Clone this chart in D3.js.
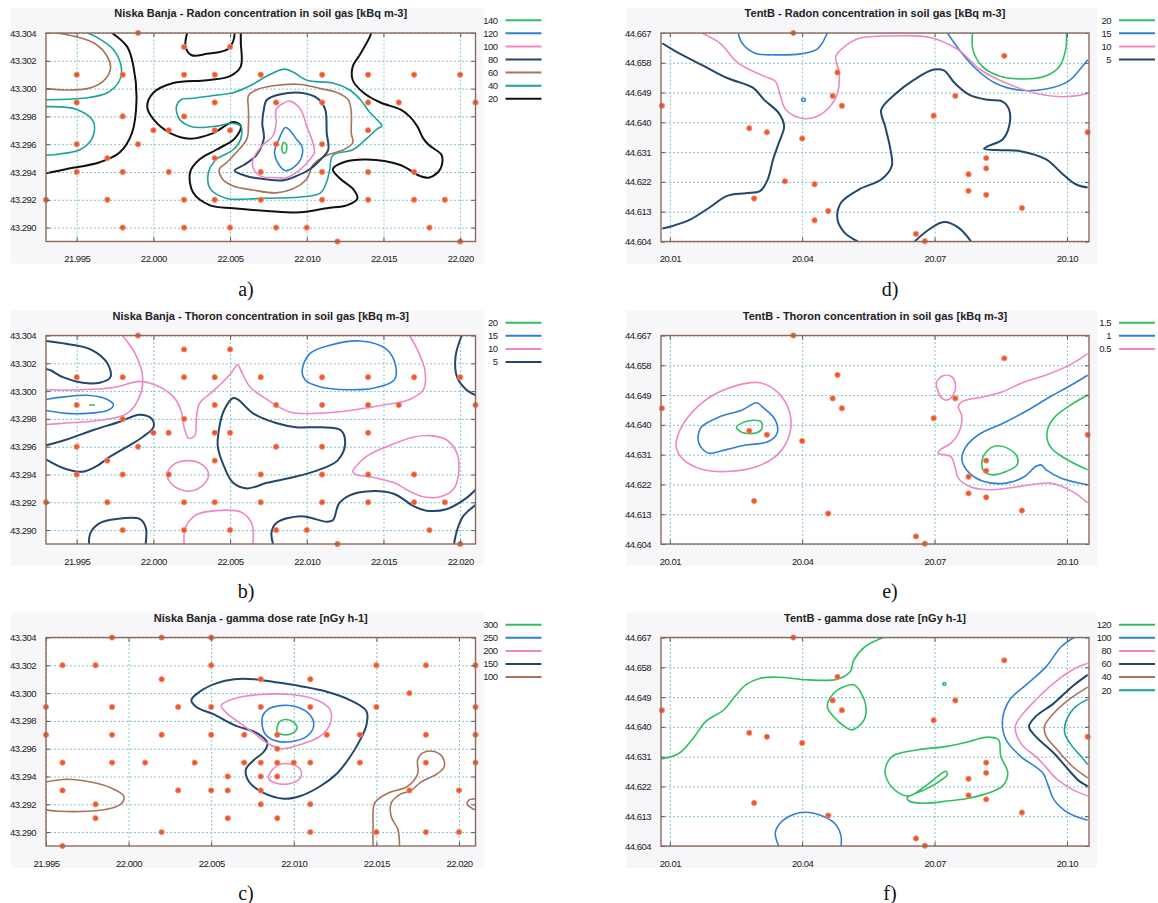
<!DOCTYPE html>
<html>
<head>
<meta charset="utf-8">
<script src="https://cdn.jsdelivr.net/npm/d3@7"></script>
<style>
  body { margin: 0; background: #fff; }
  svg { display: block; font-family: "Liberation Sans", Arial, sans-serif; }
  .lbl text, .legend text { font-size: 9.5px; fill: #222; letter-spacing: -0.5px; }
  .title { font-size: 11px; font-weight: bold; fill: #222; letter-spacing: 0px; }
  .letter { font-family: "Liberation Serif", "Times New Roman", serif; font-size: 20px; fill: #111; }
</style>
</head>
<body>
<svg id="chart" width="1158" height="903"></svg>
<script>
// ---- tick labels ----
const niskaXTicks = [21.995, 22.000, 22.005, 22.010, 22.015, 22.020];
const niskaYTicks = [43.290, 43.292, 43.294, 43.296, 43.298, 43.300, 43.302, 43.304];
const tentXTicks = [20.01, 20.04, 20.07, 20.10];
const tentYTicks = [44.604, 44.613, 44.622, 44.631, 44.640, 44.649, 44.658, 44.667];

// ---- sampling sites [lon, lat] ----
const niskaSites = [
  [21.999,43.304],
  [22.002,43.303],[22.005,43.303],
  [21.995,43.301],[21.998,43.301],[22.002,43.301],[22.004,43.301],[22.007,43.301],[22.011,43.301],[22.014,43.301],[22.017,43.301],[22.020,43.301],
  [21.995,43.299],[22.004,43.299],[22.008,43.299],[22.011,43.299],[22.014,43.299],[22.016,43.299],[22.021,43.299],
  [21.998,43.298],[22.002,43.298],
  [22.000,43.297],[22.001,43.297],[22.004,43.297],[22.005,43.297],[22.014,43.297],
  [21.995,43.296],[21.999,43.296],[22.008,43.296],[22.011,43.296],
  [21.997,43.295],[22.004,43.295],
  [21.995,43.294],[21.998,43.294],[22.001,43.294],[22.007,43.294],[22.011,43.294],[22.014,43.294],[22.017,43.294],
  [21.993,43.292],[21.997,43.292],[22.002,43.292],[22.004,43.292],[22.007,43.292],[22.011,43.292],[22.014,43.292],[22.017,43.292],[22.019,43.292],
  [21.998,43.290],[22.002,43.290],[22.005,43.290],[22.008,43.290],[22.010,43.290],[22.018,43.290],
  [22.012,43.289],[22.020,43.289]
];
const gammaSites = [
  [21.999,43.304],[22.002,43.304],[22.005,43.304],
  [21.996,43.302],[21.998,43.302],[22.005,43.302],[22.015,43.302],[22.018,43.302],[22.021,43.302],
  [22.002,43.301],[22.008,43.301],[22.011,43.301],
  [22.017,43.300],
  [21.995,43.299],[21.999,43.299],[22.003,43.299],[22.005,43.299],[22.008,43.299],[22.011,43.299],[22.015,43.299],[22.021,43.299],
  [21.995,43.297],[21.999,43.297],[22.002,43.297],[22.005,43.297],[22.007,43.297],[22.009,43.297],[22.012,43.297],[22.014,43.297],[22.018,43.297],[22.021,43.297],
  [22.009,43.296],
  [21.996,43.295],[21.999,43.295],[22.001,43.295],[22.004,43.295],[22.007,43.295],[22.008,43.295],[22.009,43.295],[22.010,43.295],[22.011,43.295],[22.014,43.295],[22.018,43.295],[22.021,43.295],
  [22.006,43.294],[22.008,43.294],[22.009,43.294],
  [21.996,43.293],[22.003,43.293],[22.005,43.293],[22.006,43.293],[22.008,43.293],[22.017,43.293],[22.020,43.293],
  [21.998,43.292],[22.008,43.292],[22.011,43.292],
  [21.998,43.291],[22.006,43.291],[22.009,43.291],
  [22.002,43.290],[22.011,43.290],[22.015,43.290],[22.018,43.290],[22.020,43.290],
  [21.996,43.289]
];
const tentSites = [
  [20.0380,44.6670],[20.0082,44.6450],[20.0480,44.6551],[20.0469,44.6480],[20.0490,44.6450],
  [20.0858,44.6601],[20.0747,44.6480],[20.0698,44.6420],[20.0280,44.6382],[20.0320,44.6370],
  [20.0400,44.6351],[20.1047,44.6370],[20.0817,44.6292],[20.0817,44.6261],[20.0777,44.6243],
  [20.0777,44.6193],[20.0817,44.6181],[20.0291,44.6170],[20.0459,44.6132],[20.0898,44.6141],
  [20.0658,44.6063],[20.0678,44.6041]
];
const tentRadonExtraSites = [[20.0361,44.6222],[20.0428,44.6213],[20.0428,44.6104]];

// ---- contour levels (legend order) ----
const radonNiskaLevels = [140, 120, 100, 80, 60, 40, 20];
const thoronNiskaLevels = [20, 15, 10, 5];
const gammaNiskaLevels = [300, 250, 200, 150, 100];
const radonTentLevels = [20, 15, 10, 5];
const thoronTentLevels = [1.5, 1, 0.5];
const gammaTentLevels = [120, 100, 80, 60, 40, 20];

// ---- contour lines [lon, lat] ----
const radonNiskaLines = [
  {level: 20, closed: false, pts: [[21.9973,43.3040],[21.9983,43.3030],[21.9987,43.3016],[21.9989,43.2992],[21.9986,43.2968],[21.9978,43.2954],[21.9965,43.2947],[21.9943,43.2942],[21.9930,43.2939]]},
  {level: 20, closed: false, pts: [[22.0022,43.3040],[22.0021,43.3030],[22.0025,43.3024],[22.0035,43.3025],[22.0048,43.3028],[22.0052,43.3034],[22.0053,43.3040]]},
  {level: 20, closed: false, pts: [[22.0057,43.3040],[22.0057,43.3033],[22.0057,43.3016],[22.0050,43.3009],[22.0035,43.3006],[22.0013,43.3004],[22.0000,43.2997],[21.9996,43.2987],[22.0000,43.2978],[22.0011,43.2968],[22.0024,43.2964],[22.0039,43.2968],[22.0052,43.2976],[22.0057,43.2973],[22.0053,43.2964],[22.0041,43.2956],[22.0030,43.2949],[22.0024,43.2940],[22.0026,43.2925],[22.0037,43.2916],[22.0052,43.2914],[22.0074,43.2912],[22.0096,43.2911],[22.0113,43.2914],[22.0126,43.2916],[22.0133,43.2921],[22.0130,43.2928],[22.0122,43.2935],[22.0117,43.2942],[22.0124,43.2947],[22.0139,43.2949],[22.0161,43.2945],[22.0174,43.2937],[22.0180,43.2936],[22.0187,43.2942],[22.0188,43.2952],[22.0180,43.2959],[22.0176,43.2964],[22.0172,43.2973],[22.0167,43.2980],[22.0161,43.2985],[22.0148,43.2990],[22.0137,43.2997],[22.0130,43.3006],[22.0130,43.3016],[22.0135,43.3025],[22.0141,43.3037],[22.0142,43.3040]]},
  {level: 40, closed: false, pts: [[21.9930,43.2992],[21.9954,43.2993],[21.9970,43.2997],[21.9978,43.3006],[21.9979,43.3016],[21.9974,43.3028],[21.9963,43.3037],[21.9957,43.3040]]},
  {level: 40, closed: false, pts: [[21.9930,43.2987],[21.9950,43.2985],[21.9961,43.2976],[21.9960,43.2964],[21.9952,43.2956],[21.9939,43.2953],[21.9930,43.2952]]},
  {level: 40, closed: true, pts: [[22.0015,43.2987],[22.0018,43.2992],[22.0026,43.2993],[22.0039,43.2995],[22.0052,43.2997],[22.0063,43.3002],[22.0074,43.3009],[22.0085,43.3014],[22.0091,43.3012],[22.0100,43.3006],[22.0117,43.3004],[22.0128,43.2999],[22.0135,43.2992],[22.0141,43.2983],[22.0148,43.2975],[22.0149,43.2973],[22.0146,43.2971],[22.0139,43.2964],[22.0130,43.2956],[22.0117,43.2952],[22.0115,43.2942],[22.0113,43.2933],[22.0109,43.2925],[22.0096,43.2922],[22.0070,43.2921],[22.0048,43.2921],[22.0037,43.2928],[22.0036,43.2940],[22.0041,43.2949],[22.0052,43.2956],[22.0057,43.2964],[22.0057,43.2973],[22.0052,43.2975],[22.0041,43.2973],[22.0030,43.2972],[22.0024,43.2973],[22.0017,43.2978]]},
  {level: 60, closed: false, pts: [[21.9935,43.3040],[21.9943,43.3039],[21.9961,43.3033],[21.9970,43.3023],[21.9972,43.3014],[21.9967,43.3005],[21.9957,43.3000],[21.9943,43.2999],[21.9930,43.3000]]},
  {level: 60, closed: true, pts: [[22.0062,43.2995],[22.0067,43.2999],[22.0078,43.3002],[22.0096,43.3003],[22.0109,43.3000],[22.0120,43.2997],[22.0127,43.2992],[22.0129,43.2983],[22.0129,43.2968],[22.0130,43.2961],[22.0124,43.2956],[22.0113,43.2952],[22.0104,43.2945],[22.0100,43.2935],[22.0091,43.2928],[22.0080,43.2925],[22.0065,43.2927],[22.0052,43.2930],[22.0045,43.2935],[22.0043,43.2942],[22.0048,43.2947],[22.0054,43.2954],[22.0061,43.2964],[22.0062,43.2975],[22.0062,43.2985]]},
  {level: 80, closed: true, pts: [[22.0072,43.2985],[22.0074,43.2992],[22.0083,43.2996],[22.0096,43.2997],[22.0107,43.2993],[22.0112,43.2985],[22.0113,43.2968],[22.0114,43.2956],[22.0109,43.2949],[22.0102,43.2942],[22.0093,43.2937],[22.0085,43.2934],[22.0072,43.2935],[22.0061,43.2937],[22.0053,43.2941],[22.0059,43.2945],[22.0067,43.2952],[22.0072,43.2964],[22.0071,43.2975]]},
  {level: 100, closed: true, pts: [[22.0080,43.2985],[22.0084,43.2989],[22.0089,43.2991],[22.0096,43.2985],[22.0100,43.2973],[22.0104,43.2961],[22.0105,43.2954],[22.0102,43.2949],[22.0096,43.2942],[22.0087,43.2936],[22.0078,43.2936],[22.0070,43.2937],[22.0065,43.2943],[22.0065,43.2949],[22.0071,43.2959],[22.0078,43.2966],[22.0080,43.2975]]},
  {level: 120, closed: true, pts: [[22.0086,43.2972],[22.0089,43.2970],[22.0093,43.2964],[22.0097,43.2958],[22.0096,43.2949],[22.0091,43.2943],[22.0086,43.2941],[22.0082,43.2945],[22.0079,43.2954],[22.0082,43.2964]]},
  {level: 140, closed: true, pts: [[22.00850,43.29612],[22.00865,43.29600],[22.00870,43.29571],[22.00863,43.29540],[22.00848,43.29536],[22.00838,43.29560],[22.00840,43.29595]]}
];

const thoronNiskaLines = [
  {level: 5, closed: false, pts: [[21.9930,43.3036],[21.9943,43.3034],[21.9959,43.3030],[21.9970,43.3020],[21.9972,43.3010],[21.9965,43.3006],[21.9954,43.3006],[21.9941,43.3010],[21.9933,43.3015],[21.9930,43.3016]]},
  {level: 5, closed: false, pts: [[21.9930,43.2961],[21.9943,43.2965],[21.9961,43.2972],[21.9978,43.2978],[21.9991,43.2983],[21.9999,43.2980],[22.0000,43.2974],[21.9993,43.2967],[21.9983,43.2960],[21.9972,43.2953],[21.9963,43.2946],[21.9954,43.2942],[21.9943,43.2944],[21.9933,43.2949],[21.9930,43.2951]]},
  {level: 5, closed: true, pts: [[22.0046,43.2986],[22.0052,43.2995],[22.0055,43.2994],[22.0065,43.2984],[22.0080,43.2977],[22.0093,43.2974],[22.0109,43.2974],[22.0122,43.2972],[22.0125,43.2962],[22.0120,43.2950],[22.0107,43.2943],[22.0091,43.2938],[22.0074,43.2934],[22.0061,43.2930],[22.0052,43.2934],[22.0046,43.2946],[22.0042,43.2960],[22.0043,43.2974]]},
  {level: 5, closed: false, pts: [[21.9958,43.2890],[21.9959,43.2898],[21.9965,43.2905],[21.9976,43.2908],[21.9991,43.2908],[21.9995,43.2902],[21.9995,43.2890]]},
  {level: 5, closed: false, pts: [[22.0078,43.2890],[22.0077,43.2898],[22.0080,43.2905],[22.0096,43.2910],[22.0113,43.2906],[22.0117,43.2907],[22.0121,43.2919],[22.0128,43.2925],[22.0141,43.2928],[22.0157,43.2926],[22.0170,43.2917],[22.0178,43.2914],[22.0191,43.2915],[22.0204,43.2923],[22.0210,43.2929]]},
  {level: 5, closed: false, pts: [[22.0210,43.2918],[22.0202,43.2910],[22.0198,43.2900],[22.0196,43.2890]]},
  {level: 5, closed: false, pts: [[22.0201,43.3040],[22.0197,43.3025],[22.0198,43.3010],[22.0204,43.3001],[22.0210,43.2997]]},
  {level: 10, closed: false, pts: [[21.9980,43.3040],[21.9989,43.3025],[21.9993,43.3010],[21.9991,43.2996],[21.9983,43.2984],[21.9965,43.2979],[21.9943,43.2977],[21.9930,43.2976]]},
  {level: 10, closed: false, pts: [[21.9930,43.3001],[21.9954,43.3001],[21.9976,43.3003],[21.9991,43.3007],[22.0002,43.3004],[22.0013,43.2996],[22.0018,43.2986],[22.0020,43.2974],[22.0023,43.2966],[22.0027,43.2968],[22.0028,43.2979],[22.0030,43.2991],[22.0039,43.3000],[22.0050,43.3012],[22.0055,43.3019],[22.0057,43.3015],[22.0063,43.3003],[22.0074,43.2994],[22.0089,43.2985],[22.0107,43.2984],[22.0128,43.2986],[22.0150,43.2990],[22.0167,43.2994],[22.0176,43.3001],[22.0177,43.3015],[22.0172,43.3030],[22.0167,43.3040]]},
  {level: 10, closed: true, pts: [[22.0009,43.2940],[22.0013,43.2947],[22.0022,43.2950],[22.0032,43.2947],[22.0036,43.2940],[22.0032,43.2932],[22.0023,43.2928],[22.0013,43.2932]]},
  {level: 10, closed: true, pts: [[22.0130,43.2942],[22.0139,43.2953],[22.0152,43.2960],[22.0170,43.2967],[22.0180,43.2968],[22.0191,43.2965],[22.0198,43.2955],[22.0199,43.2941],[22.0196,43.2930],[22.0187,43.2924],[22.0176,43.2924],[22.0167,43.2928],[22.0157,43.2934],[22.0143,43.2938],[22.0132,43.2940]]},
  {level: 10, closed: false, pts: [[22.0020,43.2890],[22.0021,43.2902],[22.0028,43.2911],[22.0041,43.2914],[22.0057,43.2913],[22.0064,43.2905],[22.0065,43.2890]]},
  {level: 15, closed: false, pts: [[21.9930,43.2994],[21.9943,43.2996],[21.9957,43.2997],[21.9970,43.2994],[21.9974,43.2990],[21.9970,43.2986],[21.9957,43.2984],[21.9943,43.2984],[21.9930,43.2986]]},
  {level: 15, closed: true, pts: [[22.0097,43.3015],[22.0102,43.3027],[22.0115,43.3033],[22.0135,43.3036],[22.0152,43.3030],[22.0158,43.3018],[22.0157,43.3008],[22.0143,43.3002],[22.0126,43.3001],[22.0109,43.3003],[22.0099,43.3008]]},
  {level: 20, closed: false, pts: [[21.9958,43.2990],[21.9962,43.2990]]}
];

const gammaNiskaLines = [
  {level: 150, closed: true, pts: [[22.0038,43.2995],[22.0043,43.3001],[22.0053,43.3007],[22.0064,43.3010],[22.0076,43.3010],[22.0088,43.3008],[22.0104,43.3005],[22.0120,43.3001],[22.0134,43.2995],[22.0144,43.2987],[22.0144,43.2977],[22.0140,43.2966],[22.0134,43.2954],[22.0126,43.2942],[22.0116,43.2933],[22.0104,43.2926],[22.0094,43.2924],[22.0082,43.2928],[22.0073,43.2936],[22.0071,43.2945],[22.0076,43.2952],[22.0082,43.2958],[22.0084,43.2964],[22.0078,43.2971],[22.0064,43.2977],[22.0051,43.2985],[22.0041,43.2990]]},
  {level: 200, closed: true, pts: [[22.0056,43.2991],[22.0064,43.2996],[22.0080,43.2999],[22.0098,43.2999],[22.0114,43.2995],[22.0122,43.2988],[22.0122,43.2978],[22.0116,43.2969],[22.0104,43.2963],[22.0092,43.2960],[22.0084,43.2964],[22.0076,43.2971],[22.0068,43.2978],[22.0060,43.2985]]},
  {level: 200, closed: true, pts: [[22.0085,43.2941],[22.0090,43.2948],[22.0098,43.2949],[22.0104,43.2945],[22.0104,43.2939],[22.0098,43.2935],[22.0090,43.2935],[22.0085,43.2938]]},
  {level: 250, closed: true, pts: [[22.0081,43.2983],[22.0084,43.2988],[22.0092,43.2991],[22.0102,43.2990],[22.0110,43.2984],[22.0112,43.2976],[22.0108,43.2969],[22.0098,43.2965],[22.0088,43.2966],[22.0082,43.2972]]},
  {level: 300, closed: true, pts: [[22.0090,43.2976],[22.0092,43.2980],[22.0096,43.2981],[22.0100,43.2979],[22.0102,43.2975],[22.0099,43.2971],[22.0094,43.2970],[22.0090,43.2972]]},
  {level: 100, closed: false, pts: [[21.9950,43.2936],[21.9963,43.2938],[21.9977,43.2936],[21.9989,43.2932],[21.9997,43.2926],[21.9996,43.2921],[21.9989,43.2917],[21.9975,43.2915],[21.9958,43.2915],[21.9950,43.2916]]},
  {level: 100, closed: false, pts: [[22.0148,43.2890],[22.0148,43.2904],[22.0149,43.2921],[22.0157,43.2928],[22.0169,43.2933],[22.0175,43.2942],[22.0175,43.2952],[22.0178,43.2957],[22.0185,43.2958],[22.0190,43.2954],[22.0191,43.2947],[22.0187,43.2942],[22.0177,43.2936],[22.0171,43.2930],[22.0164,43.2927],[22.0159,43.2921],[22.0159,43.2911],[22.0163,43.2902],[22.0164,43.2890]]},
  {level: 100, closed: false, pts: [[22.0210,43.2924],[22.0206,43.2923],[22.0205,43.2920],[22.0208,43.2917],[22.0210,43.2916]]}
];

const radonTentLines = [
  {level: 5, closed: false, pts: [[20.0083,44.6639],[20.0114,44.6614],[20.0172,44.6574],[20.0230,44.6534],[20.0289,44.6504],[20.0314,44.6468],[20.0347,44.6428],[20.0359,44.6388],[20.0347,44.6338],[20.0334,44.6288],[20.0322,44.6228],[20.0305,44.6193],[20.0272,44.6186],[20.0230,44.6178],[20.0189,44.6142],[20.0147,44.6107],[20.0106,44.6087],[20.0083,44.6079]]},
  {level: 5, closed: false, pts: [[20.0526,44.6040],[20.0496,44.6067],[20.0480,44.6107],[20.0488,44.6157],[20.0530,44.6198],[20.0580,44.6228],[20.0603,44.6268],[20.0600,44.6318],[20.0588,44.6388],[20.0579,44.6438],[20.0613,44.6488],[20.0654,44.6529],[20.0696,44.6559],[20.0721,44.6557],[20.0746,44.6518],[20.0779,44.6483],[20.0821,44.6468],[20.0854,44.6463],[20.0869,44.6438],[20.0869,44.6388],[20.0854,44.6348],[20.0821,44.6328],[20.0812,44.6320],[20.0854,44.6316],[20.0895,44.6313],[20.0953,44.6288],[20.0987,44.6248],[20.1020,44.6213],[20.1047,44.6203]]},
  {level: 5, closed: false, pts: [[20.0655,44.6040],[20.0688,44.6077],[20.0721,44.6099],[20.0754,44.6082],[20.0783,44.6040]]},
  {level: 15, closed: false, pts: [[20.0255,44.6670],[20.0264,44.6639],[20.0293,44.6609],[20.0339,44.6604],[20.0397,44.6607],[20.0434,44.6621],[20.0457,44.6670]]},
  {level: 15, closed: false, pts: [[20.0729,44.6670],[20.0762,44.6609],[20.0796,44.6559],[20.0837,44.6519],[20.0895,44.6497],[20.0953,44.6501],[20.1003,44.6524],[20.1032,44.6564],[20.1047,44.6589]]},
  {level: 15, closed: true, pts: [[20.0400,44.6472],[20.0406,44.6472],[20.0407,44.6466],[20.0403,44.6463],[20.0399,44.6466]]},
  {level: 10, closed: false, pts: [[20.0172,44.6670],[20.0214,44.6639],[20.0255,44.6579],[20.0314,44.6539],[20.0339,44.6524],[20.0351,44.6478],[20.0363,44.6438],[20.0397,44.6413],[20.0430,44.6416],[20.0463,44.6448],[20.0480,44.6488],[20.0484,44.6549],[20.0476,44.6599],[20.0496,44.6629],[20.0530,44.6654],[20.0604,44.6661],[20.0688,44.6657],[20.0754,44.6619],[20.0804,44.6559],[20.0862,44.6519],[20.0929,44.6488],[20.0978,44.6478],[20.1020,44.6480],[20.1047,44.6488]]},
  {level: 20, closed: false, pts: [[20.0786,44.6670],[20.0787,44.6619],[20.0808,44.6569],[20.0845,44.6541],[20.0904,44.6531],[20.0953,44.6541],[20.0983,44.6569],[20.0997,44.6619],[20.0999,44.6670]]}
];

const thoronTentLines = [
  {level: 0.5, closed: true, pts: [[20.0114,44.6344],[20.0131,44.6404],[20.0181,44.6475],[20.0247,44.6517],[20.0305,44.6527],[20.0347,44.6495],[20.0372,44.6435],[20.0372,44.6374],[20.0347,44.6314],[20.0297,44.6274],[20.0230,44.6259],[20.0172,44.6266],[20.0131,44.6294],[20.0116,44.6324]]},
  {level: 0.5, closed: true, pts: [[20.0704,44.6525],[20.0717,44.6547],[20.0737,44.6547],[20.0747,44.6525],[20.0742,44.6490],[20.0729,44.6475],[20.0717,44.6480],[20.0707,44.6505]]},
  {level: 0.5, closed: false, pts: [[20.1047,44.6615],[20.1012,44.6585],[20.0962,44.6555],[20.0895,44.6525],[20.0854,44.6500],[20.0812,44.6485],[20.0762,44.6470],[20.0754,44.6455],[20.0762,44.6425],[20.0754,44.6374],[20.0737,44.6344],[20.0712,44.6324],[20.0708,44.6314],[20.0737,44.6304],[20.0746,44.6274],[20.0754,44.6239],[20.0779,44.6214],[20.0829,44.6204],[20.0895,44.6214],[20.0962,44.6224],[20.1012,44.6199],[20.1047,44.6164]]},
  {level: 1, closed: true, pts: [[20.0164,44.6364],[20.0172,44.6394],[20.0214,44.6425],[20.0264,44.6445],[20.0297,44.6467],[20.0309,44.6455],[20.0339,44.6415],[20.0343,44.6374],[20.0322,44.6349],[20.0272,44.6339],[20.0230,44.6326],[20.0189,44.6314],[20.0176,44.6324],[20.0166,44.6344]]},
  {level: 1, closed: false, pts: [[20.1047,44.6550],[20.1003,44.6515],[20.0962,44.6485],[20.0912,44.6445],[20.0854,44.6404],[20.0804,44.6374],[20.0771,44.6334],[20.0762,44.6294],[20.0779,44.6254],[20.0812,44.6229],[20.0862,44.6224],[20.0904,44.6244],[20.0929,44.6274],[20.0941,44.6279],[20.0953,44.6264],[20.0987,44.6239],[20.1047,44.6219]]},
  {level: 1.5, closed: true, pts: [[20.0251,44.6392],[20.0264,44.6406],[20.0289,44.6414],[20.0307,44.6409],[20.0309,44.6389],[20.0297,44.6376],[20.0264,44.6377]]},
  {level: 1.5, closed: true, pts: [[20.0808,44.6294],[20.0821,44.6324],[20.0837,44.6336],[20.0866,44.6329],[20.0887,44.6304],[20.0887,44.6279],[20.0862,44.6259],[20.0833,44.6249],[20.0812,44.6259]]},
  {level: 1.5, closed: false, pts: [[20.1047,44.6490],[20.1003,44.6455],[20.0970,44.6420],[20.0955,44.6379],[20.0962,44.6334],[20.0995,44.6299],[20.1047,44.6264]]}
];

const gammaTentLines = [
  {level: 120, closed: false, pts: [[20.0081,44.6303],[20.0122,44.6321],[20.0156,44.6371],[20.0181,44.6416],[20.0222,44.6451],[20.0247,44.6491],[20.0272,44.6527],[20.0305,44.6547],[20.0347,44.6550],[20.0413,44.6542],[20.0480,44.6544],[20.0509,44.6567],[20.0517,44.6602],[20.0542,44.6642],[20.0584,44.6670]]},
  {level: 120, closed: true, pts: [[20.0457,44.6461],[20.0471,44.6501],[20.0496,44.6522],[20.0517,44.6527],[20.0534,44.6501],[20.0545,44.6451],[20.0538,44.6416],[20.0513,44.6391],[20.0496,44.6401],[20.0471,44.6431]]},
  {level: 120, closed: true, pts: [[20.0719,44.6532],[20.0722,44.6534],[20.0725,44.6532],[20.0725,44.6528],[20.0722,44.6526],[20.0719,44.6528]]},
  {level: 120, closed: true, pts: [[20.0592,44.6241],[20.0588,44.6271],[20.0604,44.6311],[20.0663,44.6331],[20.0729,44.6341],[20.0779,44.6356],[20.0821,44.6369],[20.0845,44.6361],[20.0850,44.6311],[20.0866,44.6261],[20.0854,44.6221],[20.0812,44.6196],[20.0771,44.6183],[20.0729,44.6176],[20.0679,44.6169],[20.0642,44.6176],[20.0638,44.6186],[20.0679,44.6211],[20.0712,44.6236],[20.0729,44.6256],[20.0725,44.6266],[20.0708,44.6251],[20.0679,44.6221],[20.0642,44.6191],[20.0613,44.6206]]},
  {level: 100, closed: false, pts: [[20.0347,44.6040],[20.0339,44.6080],[20.0351,44.6110],[20.0380,44.6135],[20.0407,44.6142],[20.0447,44.6130],[20.0476,44.6105],[20.0488,44.6070],[20.0488,44.6040]]},
  {level: 100, closed: false, pts: [[20.1016,44.6670],[20.0987,44.6642],[20.0953,44.6582],[20.0912,44.6532],[20.0870,44.6481],[20.0854,44.6421],[20.0862,44.6361],[20.0895,44.6311],[20.0945,44.6261],[20.0958,44.6221],[20.0970,44.6181],[20.1003,44.6140],[20.1047,44.6118]]},
  {level: 80, closed: false, pts: [[20.1047,44.6592],[20.1012,44.6572],[20.0970,44.6532],[20.0929,44.6481],[20.0895,44.6431],[20.0883,44.6401],[20.0895,44.6351],[20.0937,44.6301],[20.0978,44.6241],[20.1012,44.6211],[20.1047,44.6191]]},
  {level: 60, closed: false, pts: [[20.1047,44.6557],[20.1012,44.6522],[20.0970,44.6471],[20.0929,44.6431],[20.0914,44.6401],[20.0929,44.6371],[20.0970,44.6321],[20.1003,44.6271],[20.1028,44.6236],[20.1047,44.6221]]},
  {level: 40, closed: false, pts: [[20.1047,44.6520],[20.1003,44.6481],[20.0970,44.6441],[20.0949,44.6401],[20.0953,44.6371],[20.0978,44.6331],[20.1012,44.6281],[20.1047,44.6246]]},
  {level: 20, closed: false, pts: [[20.1047,44.6483],[20.1020,44.6461],[20.0999,44.6421],[20.0995,44.6381],[20.1012,44.6341],[20.1032,44.6311],[20.1047,44.6286]]}
];

// ---- layout ----
const palette = ['#2fbf5f', '#2f7fd8', '#ee88c4', '#23476a', '#a8735a', '#1aa39a', '#111111'];
const columns = [{x0: 46, x1: 475.5, letterX: 246}, {x0: 661, x1: 1089, letterX: 890}];
const rowTops = [33, 335.5, 637.5];
const plotH = 208.5;

const panels = [
  {id: 'a', col: 0, row: 0, title: 'Niska Banja - Radon concentration in soil gas [kBq m-3]',
   xDomain: [21.993, 22.021], yDomain: [43.289, 43.304], xTicks: niskaXTicks, yTicks: niskaYTicks, xFmt: '.3f',
   levels: radonNiskaLevels, lines: radonNiskaLines, sites: niskaSites},
  {id: 'b', col: 0, row: 1, title: 'Niska Banja - Thoron concentration in soil gas [kBq m-3]',
   xDomain: [21.993, 22.021], yDomain: [43.289, 43.304], xTicks: niskaXTicks, yTicks: niskaYTicks, xFmt: '.3f',
   levels: thoronNiskaLevels, lines: thoronNiskaLines, sites: niskaSites},
  {id: 'c', col: 0, row: 2, title: 'Niska Banja - gamma dose rate [nGy h-1]',
   xDomain: [21.995, 22.021], yDomain: [43.289, 43.304], xTicks: niskaXTicks, yTicks: niskaYTicks, xFmt: '.3f',
   levels: gammaNiskaLevels, lines: gammaNiskaLines, sites: gammaSites},
  {id: 'd', col: 1, row: 0, title: 'TentB - Radon concentration in soil gas [kBq m-3]',
   xDomain: [20.008, 20.105], yDomain: [44.604, 44.667], xTicks: tentXTicks, yTicks: tentYTicks, xFmt: '.2f',
   levels: radonTentLevels, lines: radonTentLines, sites: tentSites.concat(tentRadonExtraSites)},
  {id: 'e', col: 1, row: 1, title: 'TentB - Thoron concentration in soil gas [kBq m-3]',
   xDomain: [20.008, 20.105], yDomain: [44.604, 44.667], xTicks: tentXTicks, yTicks: tentYTicks, xFmt: '.2f',
   levels: thoronTentLevels, lines: thoronTentLines, sites: tentSites},
  {id: 'f', col: 1, row: 2, title: 'TentB - gamma dose rate [nGy h-1]',
   xDomain: [20.008, 20.105], yDomain: [44.604, 44.667], xTicks: tentXTicks, yTicks: tentYTicks, xFmt: '.2f',
   levels: gammaTentLevels, lines: gammaTentLines, sites: tentSites}
];

const svg = d3.select('#chart');

function drawPanel(p) {
  const {x0, x1, letterX} = columns[p.col];
  const top = rowTops[p.row];
  const bottom = top + plotH;
  const w = x1 - x0;
  const x = d3.scaleLinear().domain(p.xDomain).range([x0, x1]);
  const y = d3.scaleLinear().domain(p.yDomain).range([bottom, top]);
  const colour = lvl => palette[p.levels.indexOf(lvl)];
  const g = svg.append('g').attr('class', 'panel panel-' + p.id);

  // backdrop
  g.append('rect').attr('x', x0 - 35).attr('y', top - 25).attr('width', w + 43).attr('height', plotH + 47).attr('fill', '#f7f7f9');
  g.append('rect').attr('x', x0).attr('y', top).attr('width', w).attr('height', plotH).attr('fill', '#fff');

  // dotted grid
  const gridStyle = s => {
    s.select('.domain').remove();
    s.selectAll('.tick line').attr('stroke', '#86c3cc').attr('stroke-dasharray', '2,2').attr('stroke-width', 1);
  };
  g.append('g').attr('transform', `translate(0,${bottom})`)
    .call(d3.axisBottom(x).tickValues(p.xTicks).tickSize(-plotH).tickFormat('')).call(gridStyle);
  g.append('g').attr('transform', `translate(${x0},0)`)
    .call(d3.axisLeft(y).tickValues(p.yTicks).tickSize(-w).tickFormat('')).call(gridStyle);

  // contours
  const clipId = 'clip-' + p.id;
  g.append('clipPath').attr('id', clipId).append('rect').attr('x', x0).attr('y', top).attr('width', w).attr('height', plotH);
  const openLine = d3.line().x(d => x(d[0])).y(d => y(d[1])).curve(d3.curveCatmullRom.alpha(0.5));
  const closedLine = d3.line().x(d => x(d[0])).y(d => y(d[1])).curve(d3.curveCatmullRomClosed.alpha(0.5));
  g.append('g').attr('clip-path', `url(#${clipId})`)
    .selectAll('path').data(p.lines).join('path')
    .attr('d', d => (d.closed ? closedLine : openLine)(d.pts))
    .attr('fill', 'none')
    .attr('stroke', d => colour(d.level))
    .attr('stroke-width', d => { const i = p.levels.indexOf(d.level); return (i === 3 || i === 6) ? 2 : 1.6; })
    .attr('stroke-linejoin', 'round');

  // sampling sites
  g.append('g').selectAll('circle').data(p.sites).join('circle')
    .attr('cx', d => x(d[0])).attr('cy', d => y(d[1])).attr('r', 2.7)
    .attr('fill', '#f0552b').attr('stroke', '#f6977a').attr('stroke-width', 0.8);

  // frame + inward ticks
  const tickStyle = s => { s.select('.domain').remove(); s.selectAll('.tick line').attr('stroke', '#555'); s.selectAll('text').remove(); };
  g.append('g').attr('transform', `translate(0,${top})`).call(d3.axisTop(x).tickValues(p.xTicks).tickSize(-4)).call(tickStyle);
  g.append('g').attr('transform', `translate(0,${bottom})`).call(d3.axisBottom(x).tickValues(p.xTicks).tickSize(-4)).call(tickStyle);
  g.append('g').attr('transform', `translate(${x0},0)`).call(d3.axisLeft(y).tickValues(p.yTicks).tickSize(-4)).call(tickStyle);
  g.append('g').attr('transform', `translate(${x1},0)`).call(d3.axisRight(y).tickValues(p.yTicks).tickSize(-4)).call(tickStyle);
  g.append('rect').attr('x', x0).attr('y', top).attr('width', w).attr('height', plotH)
    .attr('fill', 'none').attr('stroke', '#8c6b5d').attr('stroke-width', 1.4);

  // tick labels
  const labelStyle = s => { s.select('.domain').remove(); s.selectAll('.tick line').remove(); };
  g.append('g').attr('class', 'lbl').attr('transform', `translate(0,${bottom})`)
    .call(d3.axisBottom(x).tickValues(p.xTicks).tickSize(0).tickPadding(14).tickFormat(d3.format(p.xFmt))).call(labelStyle);
  g.append('g').attr('class', 'lbl').attr('transform', `translate(${x0},0)`)
    .call(d3.axisLeft(y).tickValues(p.yTicks).tickSize(0).tickPadding(10).tickFormat(d3.format('.3f'))).call(labelStyle);
  svg.selectAll('.lbl text').attr('font-family', null).attr('font-size', null).attr('fill', null);

  // title
  g.append('text').attr('class', 'title').attr('x', (x0 + x1) / 2).attr('y', top - 19.5)
    .attr('dy', '0.35em').attr('text-anchor', 'middle').text(p.title);

  // legend
  const leg = g.append('g').attr('class', 'legend');
  const row = leg.selectAll('g').data(p.levels).join('g')
    .attr('transform', (d, i) => `translate(${x1},${top - 12.8 + i * 13.1})`);
  row.append('text').attr('x', 22).attr('dy', '0.35em').attr('text-anchor', 'end').text(d => String(d));
  row.append('line').attr('x1', 30).attr('x2', 66).attr('stroke', d => colour(d)).attr('stroke-width', 2);

  // panel letter
  g.append('text').attr('class', 'letter').attr('x', letterX).attr('y', bottom + 47)
    .attr('dy', '0.35em').attr('text-anchor', 'middle').text(p.id + ')');
}

panels.forEach(drawPanel);
</script>
</body>
</html>
